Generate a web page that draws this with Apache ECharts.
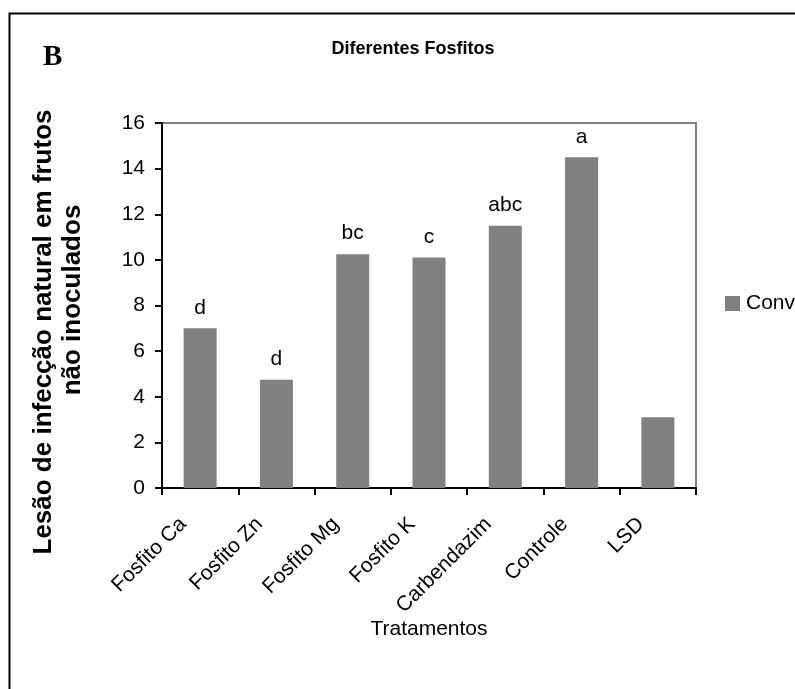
<!DOCTYPE html>
<html>
<head>
<meta charset="utf-8">
<title>Diferentes Fosfitos</title>
<script src="https://cdn.jsdelivr.net/npm/echarts@6/dist/echarts.min.js"></script>
<style>
  html, body { margin: 0; padding: 0; background: #fff; }
  #chart { width: 795px; height: 689px; }
</style>
</head>
<body>
<div id="chart"></div>
<script>
// Treatments along the x axis
const categories = ['Fosfito Ca', 'Fosfito Zn', 'Fosfito Mg', 'Fosfito K', 'Carbendazim', 'Controle', 'LSD'];
// Natural infection lesions on non-inoculated fruits
const lesionValues = [7.0, 4.75, 10.25, 10.1, 11.5, 14.5, 3.1];
// Statistical grouping letters shown above each bar
const groupLetters = ['d', 'd', 'bc', 'c', 'abc', 'a', ''];
const seriesName = 'Convencional';
const yTicks = { min: 0, max: 16, interval: 2 };

const FONT = '"Liberation Sans", Arial, sans-serif';
const chart = echarts.init(document.getElementById('chart'), null, { renderer: 'canvas' });

chart.setOption({
  animation: false,
  backgroundColor: '#ffffff',
  title: {
    text: 'Diferentes Fosfitos',
    left: 408,
    top: 35,
    textAlign: 'center',
    textStyle: { fontFamily: FONT, fontWeight: 'bold', fontSize: 18, color: '#000' }
  },
  legend: {
    data: [seriesName],
    left: 725,
    top: 293,
    padding: 0,
    itemWidth: 15,
    itemHeight: 15,
    icon: 'rect',
    itemGap: 4,
    textStyle: { fontFamily: FONT, fontSize: 21, color: '#000', padding: [0, 0, 0, 1] }
  },
  grid: {
    left: 162,
    top: 123,
    right: 99,
    bottom: 201,
    show: true,
    borderColor: '#808080',
    borderWidth: 2,
    backgroundColor: 'transparent'
  },
  xAxis: {
    type: 'category',
    data: categories,
    name: 'Tratamentos',
    nameLocation: 'middle',
    nameGap: 131,
    nameMoveOverlap: false,
    nameTextStyle: { fontFamily: FONT, fontSize: 21, color: '#000' },
    axisLine: { show: true, lineStyle: { color: '#000', width: 2 } },
    axisTick: { show: true, inside: false, length: 7, lineStyle: { color: '#000', width: 2 } },
    axisLabel: {
      rotate: 45,
      interval: 0,
      margin: 16,
      padding: [0, 24, 0, 0],
      fontFamily: FONT,
      fontSize: 21,
      color: '#000'
    },
    splitLine: { show: false }
  },
  yAxis: {
    type: 'value',
    min: yTicks.min,
    max: yTicks.max,
    interval: yTicks.interval,
    axisLine: { show: true, lineStyle: { color: '#000', width: 2 } },
    axisTick: { show: true, inside: false, length: 7, lineStyle: { color: '#000', width: 2 } },
    axisLabel: { margin: 17, fontFamily: FONT, fontSize: 21, color: '#000' },
    splitLine: { show: false }
  },
  series: [{
    name: seriesName,
    type: 'bar',
    data: lesionValues,
    barWidth: 33,
    itemStyle: { color: '#808080' },
    label: {
      show: true,
      position: 'top',
      distance: 10,
      fontFamily: FONT,
      fontSize: 21,
      color: '#000',
      formatter: (p) => groupLetters[p.dataIndex]
    }
  }],
  graphic: [
    {
      // outer figure frame
      type: 'rect',
      left: 7,
      top: 11,
      shape: { width: 900, height: 800 },
      style: { fill: 'none', stroke: '#000', lineWidth: 2 },
      silent: true
    },
    {
      type: 'text',
      left: 43,
      top: 43,
      style: { text: 'B', fontFamily: '"Liberation Serif", "Times New Roman", serif', fontWeight: 'bold', fontSize: 29, fill: '#000' }
    },
    {
      type: 'text',
      x: 44,
      y: 332,
      rotation: Math.PI / 2,
      style: {
        text: 'Lesão de infecção natural em frutos',
        fontFamily: FONT, fontWeight: 'bold', fontSize: 26, fill: '#000',
        align: 'center', verticalAlign: 'middle'
      }
    },
    {
      type: 'text',
      x: 73,
      y: 300,
      rotation: Math.PI / 2,
      style: {
        text: 'não inoculados',
        fontFamily: FONT, fontWeight: 'bold', fontSize: 26, fill: '#000',
        align: 'center', verticalAlign: 'middle'
      }
    }
  ]
});
</script>
</body>
</html>
